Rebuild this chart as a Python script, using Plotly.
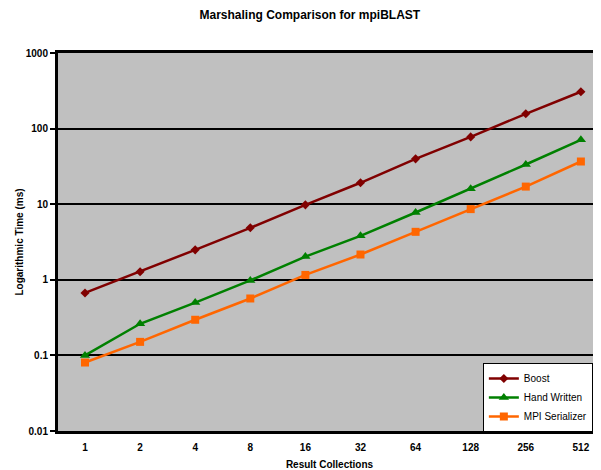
import plotly.graph_objects as go

categories = ["1", "2", "4", "8", "16", "32", "64", "128", "256", "512"]
boost = [0.67, 1.28, 2.49, 4.87, 9.8, 19.2, 39.8, 77.7, 157, 307]
hand_written = [0.10, 0.262, 0.50, 0.98, 2.03, 3.82, 7.77, 16.0, 33.5, 71]
mpi_serializer = [0.0805, 0.151, 0.296, 0.566, 1.16, 2.16, 4.31, 8.61, 17.1, 36.7]

ytick_vals = [0.01, 0.1, 1, 10, 100, 1000]
ytick_text = ["0.01", "0.1", "1", "10", "100", "1000"]

FONT = "Liberation Sans, Arial, sans-serif"

fig = go.Figure()
series = [
    ("Boost", boost, "#800000", "diamond", 7),
    ("Hand Written", hand_written, "#008000", "triangle-up", 9),
    ("MPI Serializer", mpi_serializer, "#FF6600", "square", 8),
]
for name, vals, color, sym, size in series:
    fig.add_trace(go.Scatter(
        x=categories, y=vals, name=name, mode="lines+markers",
        line=dict(color=color, width=2.5),
        marker=dict(symbol=sym, size=size, color=color),
    ))

# page body has an 8px margin, so the figure is 8px smaller and shifted
fig.update_layout(
    width=593, height=462,
    margin=dict(l=50, r=0, t=45, b=39, autoexpand=False),
    paper_bgcolor="white",
    plot_bgcolor="#C0C0C0",
    font=dict(family=FONT, color="black", size=10),
    title=dict(text="<b>Marshaling Comparison for mpiBLAST</b>",
               x=0.509, xanchor="center", y=0.985, yanchor="middle",
               font=dict(size=12, family=FONT)),
    showlegend=True,
    legend=dict(x=0.985, y=0.18, xanchor="right", yanchor="top",
                bgcolor="white", bordercolor="black", borderwidth=1,
                font=dict(size=10, family=FONT),
                itemwidth=30, tracegroupgap=0),
    xaxis=dict(
        type="category", range=[-0.49, 9.365], automargin=False,
        showgrid=False, showline=True, mirror=True,
        linecolor="black", linewidth=3,
        ticks="outside", ticklen=5, tickcolor="rgba(0,0,0,0)",
        tickfont=dict(size=10, family=FONT),
        title=dict(text="<b>Result Collections</b>", font=dict(size=10, family=FONT), standoff=9),
        tickprefix="<b>", ticksuffix="</b>",
    ),
    yaxis=dict(
        type="log", range=[-2, 3], automargin=False,
        tickvals=ytick_vals, ticktext=["<b>%s</b>" % t for t in ytick_text],
        showgrid=True, gridcolor="black", gridwidth=2,
        showline=True, linecolor="black", linewidth=3,
        ticks="outside", ticklen=5, tickwidth=2, tickcolor="black",
        zeroline=False,
        tickfont=dict(size=10, family=FONT),
        title=dict(text="<b>Logarithmic Time (ms)</b>", font=dict(size=10, family=FONT), standoff=1),
    ),
)

fig.write_html("out.html")
